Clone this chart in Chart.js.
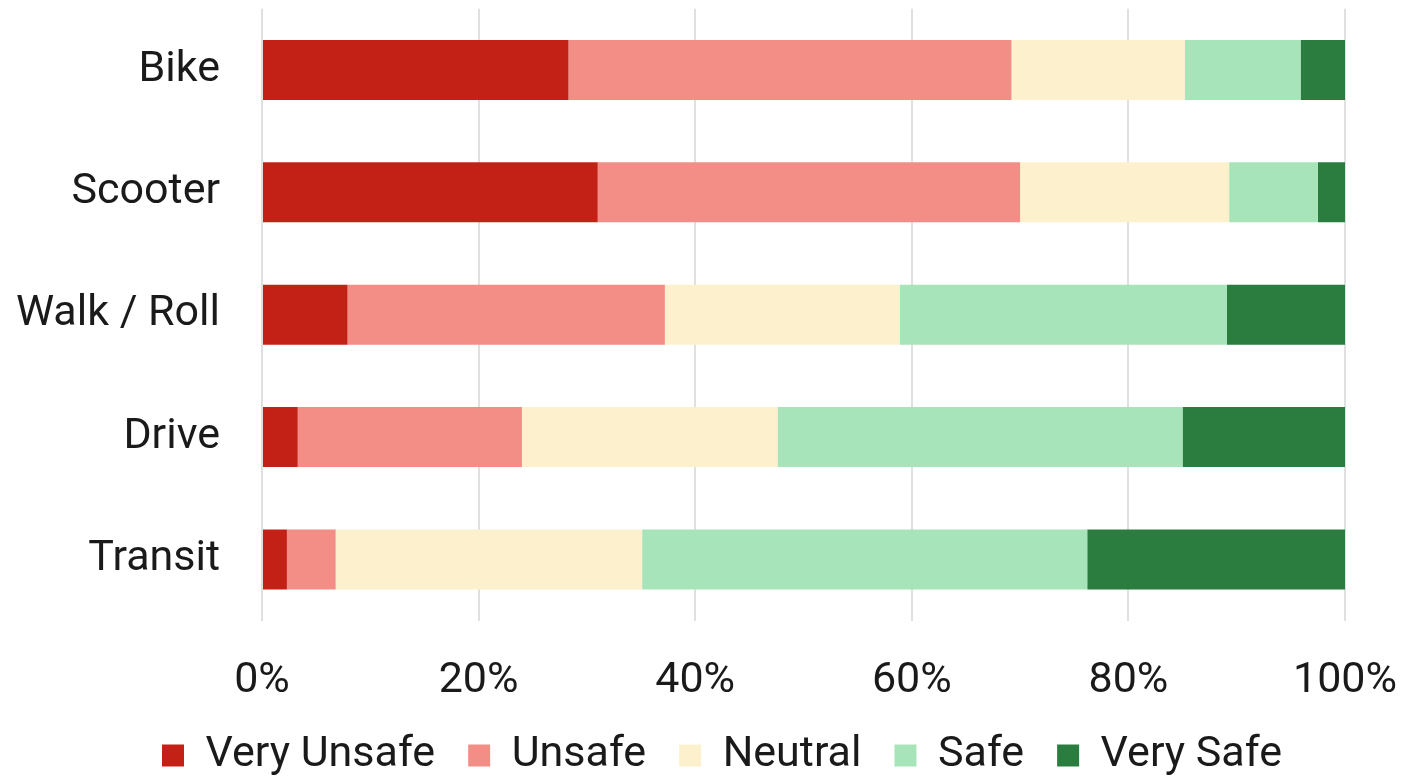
<!DOCTYPE html>
<html>
<head>
<meta charset="utf-8">
<script src="https://cdn.jsdelivr.net/npm/chart.js@4"></script>
<style>
  html, body { margin: 0; padding: 0; background: #fff; }
  #wrap { width: 1404px; height: 776px; }
</style>
</head>
<body>
<div id="wrap"><canvas id="safetyChart" width="1404" height="776"></canvas></div>
<script>
// categories and percent shares
const modes = ["Bike", "Scooter", "Walk / Roll", "Drive", "Transit"];
const veryUnsafe = [28.3, 31.0, 7.9, 3.3, 2.3];
const unsafe = [40.9, 39.0, 29.3, 20.7, 4.5];
const neutral = [16.0, 19.3, 21.7, 23.6, 28.3];
const safe = [10.7, 8.2, 30.2, 37.4, 41.1];
const verySafe = [4.1, 2.5, 10.9, 15.0, 23.8];
const xTicks = [0, 20, 40, 60, 80, 100];

const fontFamily = "Roboto, 'Noto Sans', sans-serif";
const textColor = "#1a1a1a";

// legend in the original sits a bit right of the canvas centre
const shiftLegend = {
  id: "shiftLegend",
  afterLayout(chart) {
    chart.legend.left += 41;
    chart.legend.right += 41;
  },
};

const ctx = document.getElementById("safetyChart").getContext("2d");
const chart = new Chart(ctx, {
  type: "bar",
  data: {
    labels: modes,
    datasets: [
      { label: "Very Unsafe", data: veryUnsafe, backgroundColor: "#c42116" },
      { label: "Unsafe", data: unsafe, backgroundColor: "#f28e86" },
      { label: "Neutral", data: neutral, backgroundColor: "#fdf0cd" },
      { label: "Safe", data: safe, backgroundColor: "#a8e4b9" },
      { label: "Very Safe", data: verySafe, backgroundColor: "#2a7d3f" },
    ],
  },
  options: {
    indexAxis: "y",
    responsive: false,
    animation: false,
    layout: { padding: { top: 0, right: 59, bottom: -11, left: 17 } },
    datasets: {
      bar: { categoryPercentage: 1, barPercentage: 0.49, borderWidth: 0 },
    },
    scales: {
      x: {
        stacked: true,
        min: 0,
        max: 100,
        afterBuildTicks: (axis) => {
          axis.ticks = xTicks.map((v) => ({ value: v }));
        },
        ticks: {
          callback: (v) => v + "%",
          color: textColor,
          font: { family: fontFamily, size: 43, lineHeight: 0.8 },
          padding: 3,
          maxRotation: 0,
        },
        // tick marks hidden, tickLength only pushes the labels down
        grid: { color: "#e0e0e0", lineWidth: 2, tickLength: 40, tickColor: "transparent" },
        border: { display: false },
      },
      y: {
        stacked: true,
        afterFit: (scale) => {
          scale.width = 245;
        },
        ticks: {
          color: textColor,
          font: { family: fontFamily, size: 43 },
          padding: -17,
        },
        grid: { display: false, drawTicks: true, tickLength: 59 },
        border: { display: false },
      },
    },
    plugins: {
      legend: {
        position: "bottom",
        labels: {
          boxWidth: 22,
          boxHeight: 22,
          padding: 33,
          color: textColor,
          font: { family: fontFamily, size: 43 },
        },
      },
      tooltip: { enabled: false },
    },
  },
  plugins: [shiftLegend],
});
</script>
</body>
</html>
